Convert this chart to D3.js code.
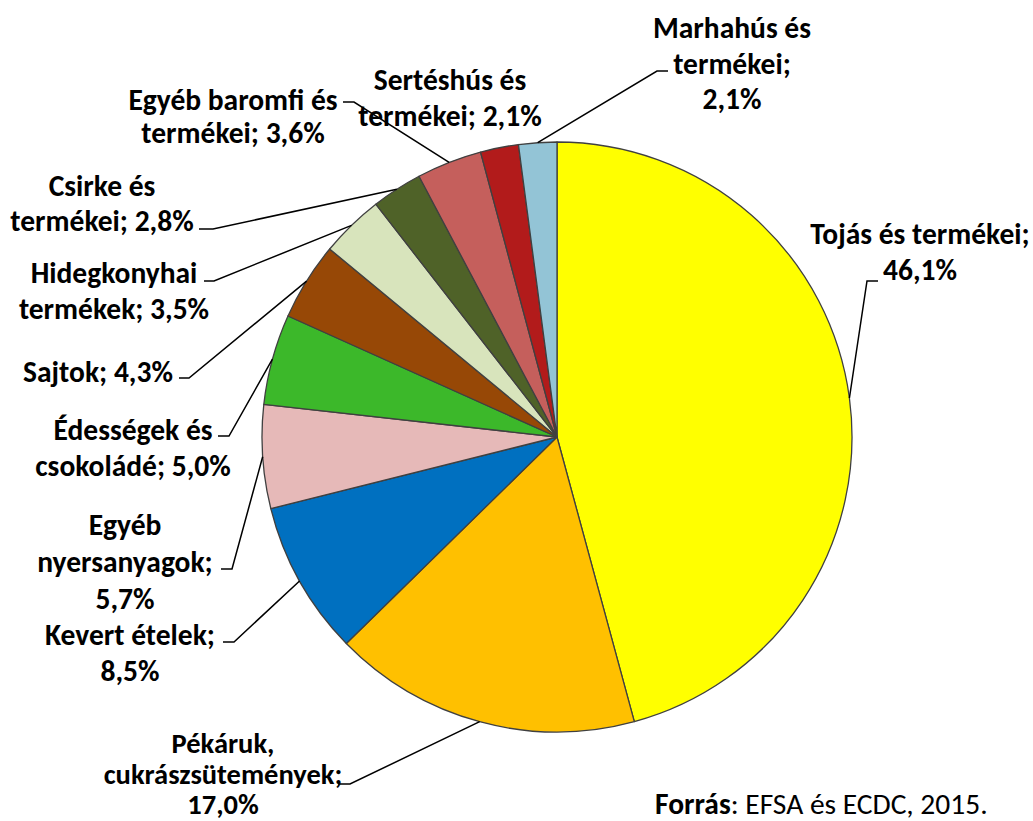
<!DOCTYPE html>
<html>
<head>
<meta charset="utf-8">
<script src="https://cdn.jsdelivr.net/npm/d3@7"></script>
<style>
  body { margin: 0; background: #fff; }
  svg { display: block; }
  .lbl { font-family: Carlito, Lato, sans-serif; font-weight: bold; fill: #000; }
</style>
</head>
<body>
<div id="chart"></div>
<script>
// data, clockwise from 12 o'clock
const categories = ["Tojás és termékei", "Pékáruk, cukrászsütemények", "Kevert ételek",
  "Egyéb nyersanyagok", "Édességek és csokoládé", "Sajtok", "Hidegkonyhai termékek",
  "Csirke és termékei", "Egyéb baromfi és termékei", "Sertéshús és termékei", "Marhahús és termékei"];
const values = [46.1, 17.0, 8.5, 5.7, 5.0, 4.3, 3.5, 2.8, 3.6, 2.1, 2.1];
const colors = ["#ffff00", "#ffc000", "#0070c0", "#e6b9b8", "#3cb82a", "#974806",
  "#d8e4bc", "#4f6228", "#c55f5c", "#b21b1b", "#93c4d6"];
// label lines, {v} is the value
const labelLines = [
  ["Tojás és termékei;", "{v}"],
  ["Pékáruk,", "cukrászsütemények;", "{v}"],
  ["Kevert ételek;", "{v}"],
  ["Egyéb", "nyersanyagok;", "{v}"],
  ["Édességek és", "csokoládé; {v}"],
  ["Sajtok; {v}"],
  ["Hidegkonyhai", "termékek; {v}"],
  ["Csirke és", "termékei; {v}"],
  ["Egyéb baromfi és", "termékei; {v}"],
  ["Sertéshús és", "termékei; {v}"],
  ["Marhahús és", "termékei;", "{v}"]
];

// layout: label centre x, first baseline y, font size, line step, leader elbow [x1, x2, y] (null = none)
const labelPos = [
  { x: 920, y: 244, fs: 29.5, lh: 36, lead: [878, 867, 281] },
  { x: 223, y: 753, fs: 28.5, lh: 30.5, lead: [338, 350, 784] },
  { x: 130, y: 645, fs: 29.5, lh: 36, lead: [223, 234, 642] },
  { x: 125, y: 535, fs: 29.5, lh: 37, lead: [221, 232, 569] },
  { x: 133, y: 440, fs: 29.5, lh: 36, lead: [218, 229, 436] },
  { x: 98, y: 382, fs: 29.5, lh: 36, lead: [179, 189, 378] },
  { x: 114, y: 283, fs: 29.5, lh: 36, lead: [204, 214, 281] },
  { x: 102, y: 196, fs: 29.5, lh: 35, lead: [199, 213, 229] },
  { x: 233, y: 110, fs: 29.5, lh: 33, lead: [343, 354, 102] },
  { x: 450, y: 90, fs: 29.5, lh: 36, lead: null },
  { x: 732, y: 38, fs: 29.5, lh: 35.5, lead: [668, 657, 71] }
];

const width = 1033, height = 821;
const cx = 557, cy = 437, radius = 295;

const fmt = v => d3.format(".1f")(v).replace(".", ",") + "%";

const svg = d3.select("#chart").append("svg")
  .attr("width", width)
  .attr("height", height)
  .attr("viewBox", [0, 0, width, height]);

const pie = d3.pie().sort(null).value(d => d);
const arcs = pie(values);
const arc = d3.arc().innerRadius(0).outerRadius(radius);

const g = svg.append("g").attr("transform", `translate(${cx},${cy})`);

g.selectAll("path.slice")
  .data(arcs)
  .join("path")
  .attr("class", "slice")
  .attr("d", arc)
  .attr("fill", (d, i) => colors[i])
  .attr("stroke", "#404040")
  .attr("stroke-width", 1.3)
  .attr("stroke-linejoin", "round");

// leader lines: elbow -> edge of slice at mid angle
const edge = d => {
  const a = (d.startAngle + d.endAngle) / 2;
  return [cx + radius * Math.sin(a), cy - radius * Math.cos(a)];
};

svg.selectAll("polyline.lead")
  .data(arcs.filter((d, i) => labelPos[i].lead))
  .join("polyline")
  .attr("class", "lead")
  .attr("fill", "none")
  .attr("stroke", "#000")
  .attr("stroke-width", 1.5)
  .attr("points", d => {
    const l = labelPos[d.index].lead;
    const p = edge(d);
    return [[l[0], l[2]], [l[1], l[2]], p].map(q => q.join(",")).join(" ");
  });

const labels = svg.selectAll("text.lbl")
  .data(categories)
  .join("text")
  .attr("class", "lbl")
  .attr("text-anchor", "middle")
  .attr("font-size", (d, i) => labelPos[i].fs);

labels.selectAll("tspan")
  .data((d, i) => labelLines[i].map(t => ({ t: t.replace("{v}", fmt(values[i])), i })))
  .join("tspan")
  .attr("x", d => labelPos[d.i].x)
  .attr("y", (d, j) => labelPos[d.i].y + j * labelPos[d.i].lh)
  .text(d => d.t);

// source
const src = svg.append("text")
  .attr("x", 655)
  .attr("y", 814)
  .attr("font-family", "Carlito, Lato, sans-serif")
  .attr("font-size", 29.5)
  .attr("fill", "#000");
src.append("tspan").attr("font-weight", "bold").text("Forrás");
src.append("tspan").text(": EFSA és ECDC, 2015.");
</script>
</body>
</html>
